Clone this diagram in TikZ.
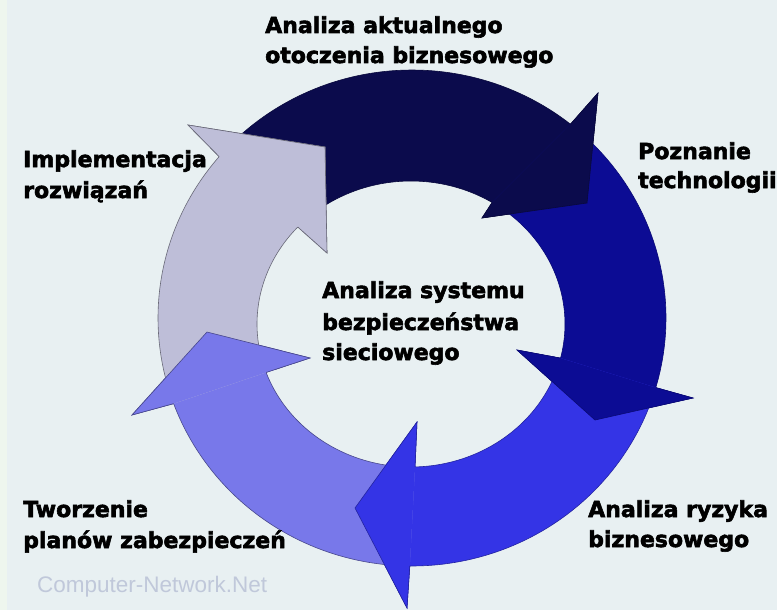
\documentclass[tikz,border=0pt]{standalone}
\usepackage{fontspec}
\setmainfont{DejaVu Sans}
\newfontfamily\heavy{DejaVu Sans Bold}[FakeBold=2.6]
\newfontfamily\wmfont{Liberation Sans}
\definecolor{bg}{HTML}{E8F0F2}
\definecolor{bgedge}{HTML}{EEF6EE}
\definecolor{cnavy}{HTML}{0B0B4C}
\definecolor{cblue}{HTML}{0C0C94}
\definecolor{cbright}{HTML}{3434E6}
\definecolor{cperi}{HTML}{7878EA}
\definecolor{clav}{HTML}{BEBED8}
\definecolor{wmcol}{HTML}{C0C8DA}
\begin{document}
\begin{tikzpicture}[x=1pt,y=-1pt,
  lbl/.style={anchor=base west, inner sep=0pt, font=\heavy\fontsize{22}{30}\selectfont, text=black},
  wm/.style={anchor=base west, inner sep=0pt, font=\wmfont\fontsize{22.5}{26}\selectfont, text=wmcol},
  arr/.style={line width=0.6pt, line join=miter}]
\useasboundingbox (0,0) rectangle (777,610);
\fill[bg] (0,0) rectangle (777,610);
\fill[bgedge] (0,0) rectangle (7,610);

% ---- pass 1: full arrows ----
% navy (top)
\filldraw[arr, fill=cnavy, draw=cnavy!80!black]
  plot[domain=220.6:308.6, samples=60] ({412+254*cos(\x)},{318+248*sin(\x)})
  -- (598,93) -- (587,203) -- (482,218)
  -- plot[domain=301.8:222.7, samples=60] ({411+154*cos(\x)},{324+143*sin(\x)});
% blue (right)
\filldraw[arr, fill=cblue, draw=cblue!80!black]
  plot[domain=-51.4:16.3, samples=60] ({412+254*cos(\x)},{318+248*sin(\x)})
  -- (693,398) -- (595,420) -- (517,350)
  -- plot[domain=13.8:-58.2, samples=60] ({411+154*cos(\x)},{324+143*sin(\x)});
% bright blue (bottom)
\filldraw[arr, fill=cbright, draw=cbright!70!black]
  plot[domain=16.3:90.5, samples=60] ({412+254*cos(\x)},{318+248*sin(\x)})
  -- (407,608) -- (355,508) -- (417,422)
  -- plot[domain=88.5:13.8, samples=60] ({411+154*cos(\x)},{324+143*sin(\x)});
% periwinkle (bottom left)
\filldraw[arr, fill=cperi, draw=cperi!60!black]
  plot[domain=90.5:159.8, samples=60] ({412+254*cos(\x)},{318+248*sin(\x)})
  -- (132,415) -- (207,332) -- (310,358)
  -- plot[domain=160.2:88.5, samples=60] ({411+154*cos(\x)},{324+143*sin(\x)});
% lavender (left)
\filldraw[arr, fill=clav, draw=clav!55!black]
  plot[domain=159.8:220.6, samples=60] ({412+254*cos(\x)},{318+248*sin(\x)})
  -- (188,125) -- (325,147) -- (327,253)
  -- plot[domain=222.7:160.2, samples=60] ({411+154*cos(\x)},{324+143*sin(\x)});

% ---- pass 2: heads on top ----
\filldraw[arr, fill=cnavy, draw=cnavy!80!black]
  ({412+254*cos(308.6)},{318+248*sin(308.6)}) -- (598,93) -- (587,203) -- (482,218)
  -- ({411+154*cos(301.8)},{324+143*sin(301.8)});
\filldraw[arr, fill=cblue, draw=cblue!80!black]
  ({412+254*cos(16.3)},{318+248*sin(16.3)}) -- (693,398) -- (595,420) -- (517,350)
  -- ({411+154*cos(13.8)},{324+143*sin(13.8)});
\filldraw[arr, fill=cbright, draw=cbright!70!black]
  ({412+254*cos(90.5)},{318+248*sin(90.5)}) -- (407,608) -- (355,508) -- (417,422)
  -- ({411+154*cos(88.5)},{324+143*sin(88.5)});
\filldraw[arr, fill=cperi, draw=cperi!60!black]
  ({412+254*cos(159.8)},{318+248*sin(159.8)}) -- (132,415) -- (207,332) -- (310,358)
  -- ({411+154*cos(160.2)},{324+143*sin(160.2)});
\filldraw[arr, fill=clav, draw=clav!55!black]
  ({412+254*cos(220.6)},{318+248*sin(220.6)}) -- (188,125) -- (325,147) -- (327,253)
  -- ({411+154*cos(222.7)},{324+143*sin(222.7)});

% ---- labels ----
\node[lbl] (topA) at (265,33) {Analiza aktualnego};
\node[lbl] (topB) at (265,63) {otoczenia biznesowego};
\node[lbl] (rightA) at (638,159) {Poznanie};
\node[lbl] (rightB) at (638,188) {technologii};
\node[lbl] (leftA) at (23,167) {Implementacja};
\node[lbl] (leftB) at (23,198) {rozwiązań};
\node[lbl] (cenA) at (322,298) {Analiza systemu};
\node[lbl] (cenB) at (322,330) {bezpieczeństwa};
\node[lbl] (cenC) at (322,360) {sieciowego};
\node[lbl] (brA) at (588,517) {Analiza ryzyka};
\node[lbl] (brB) at (588,547) {biznesowego};
\node[lbl] (blA) at (23,517) {Tworzenie};
\node[lbl] (blB) at (23,548) {planów zabezpieczeń};
\node[wm] (mark) at (37,592) {Computer-Network.Net};
\end{tikzpicture}
\end{document}
